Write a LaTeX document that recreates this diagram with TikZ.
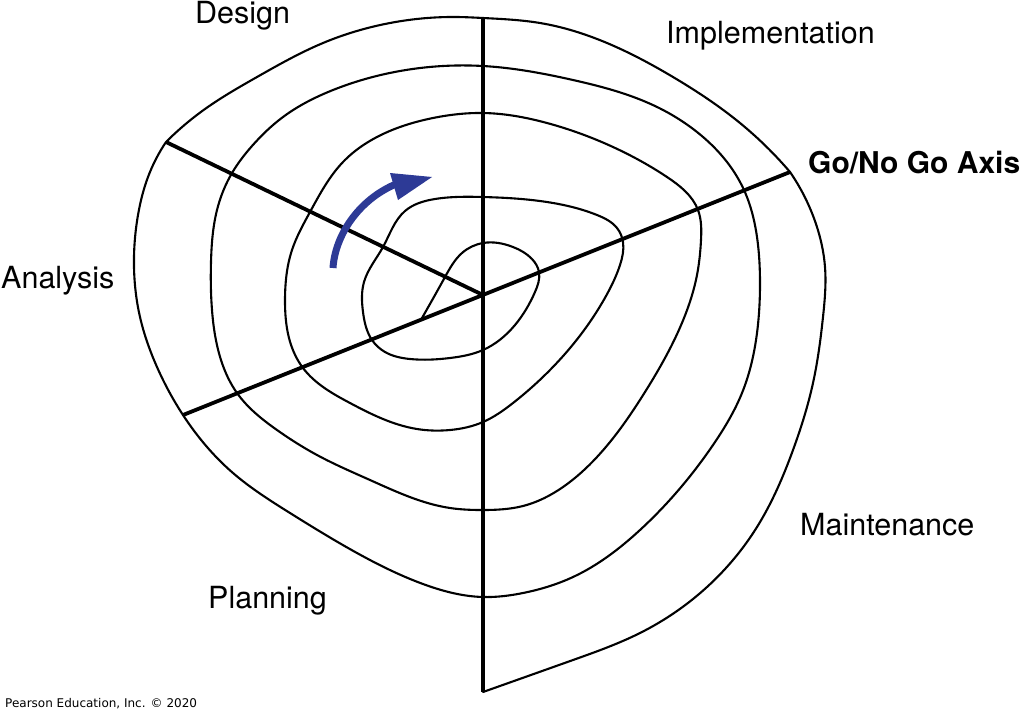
\documentclass[tikz,border=0pt]{standalone}
\usepackage{fontspec}
\setmainfont{TeX Gyre Heros}
\newfontfamily\credfont{DejaVu Sans}
\usetikzlibrary{hobby}
\definecolor{arrowblue}{RGB}{45,58,150}
\begin{document}
\begin{tikzpicture}[x=1pt,y=-1pt,
  spiral/.style={line width=2.1pt, line join=round, line cap=round, use Hobby shortcut},
  axisline/.style={line width=3.8pt},
  lbl/.style={anchor=base west, inner sep=0pt, font=\fontsize{30.5}{36}\selectfont},
  credit/.style={anchor=base west, inner sep=0pt, font=\credfont\fontsize{12}{14}\selectfont},
]
\useasboundingbox (0,0) rectangle (1024,713);
\fill[white] (0,0) rectangle (1024,713);
\coordinate (C) at (483,295);
\coordinate (Vtop) at (483,18);
\coordinate (Vbot) at (483,692);
\coordinate (Gleft) at (183,415);
\coordinate (Gright) at (790,172);
\coordinate (Dend) at (166,142);
\draw[axisline] (Vtop) -- (Vbot);
\draw[axisline] (Gleft) -- (Gright);
\draw[axisline] (Dend) -- (C);
% spiral, inner part up to the end of the design axis
\draw[spiral]
 (422,318) .. (445,277) .. (462,253) .. (483,243) .. (513,247) .. (532,259) .. (539,272)
 .. (535,292) .. (515,325) .. (483,350) .. (450,358) .. (410,359)
 .. (385,352) .. (372,340) .. (363,312) .. (364,282) .. (383,247) .. (405,211) .. (435,199)
 .. (483,197)
 .. (547,202) .. (597,215) .. (617,228) .. (623,242) .. (620,265) .. (606,296)
 .. (547,373) .. (513,403) .. (483,422) .. (450,430) .. (417,429) .. (383,419) .. (350,403)
 .. (303,368) .. (289,338) .. (285,300) .. (292,250) .. (310,212) .. (343,162)
 .. (383,134) .. (433,118) .. (483,113)
 .. (547,123) .. (613,147) .. (667,177) .. (698,210) .. (701,240) .. (697,275)
 .. (684,318) .. (645,392) .. (597,457) .. (563,487) .. (523,506) .. (483,510) .. (450,508)
 .. (370,480) .. (317,455) .. (277,430) .. (237,393) .. (221,360) .. (212,310) .. (211,262)
 .. (217,210) .. (232,173) .. (252,146) .. (283,117) .. (333,90) .. (400,71) .. (483,66)
 .. (573,80) .. (655,106) .. (697,132) .. (727,162) .. (744,190) .. (757,237) .. (760,283) .. (757,333)
 .. (742,393) .. (713,445) .. (640,530) .. (573,577) .. (523,593) .. (483,597)
 .. (423,584) .. (357,553) .. (290,513) .. (233,473) .. (183,415) .. (157,367) .. (140,317)
 .. (134,267) .. (138,215) .. (148,177) .. (Dend);
% outer top arc
\draw[spiral]
 (Dend) .. (205,109) .. (257,77) .. (323,43) .. (390,23) .. (457,17) .. (483,18)
 .. (540,23) .. (607,43) .. (673,77) .. (740,123) .. (Gright);
% outer right arc down to the foot of the vertical axis
\draw[spiral]
 (Gright) .. (816,224) .. (825,267) .. (823,317) .. (813,383) .. (793,450) .. (757,527)
 .. (707,587) .. (640,633) .. (573,660) .. (Vbot);
% blue arrow
\coordinate (Atail) at (333,268);
\coordinate (Ahead) at (396,184);
\draw[arrowblue, line width=7pt] (Atail) .. controls (335,236) and (358,200) .. (Ahead);
\fill[arrowblue] (390,173) -- (432,177) -- (398,200) -- cycle;
% labels
\node[lbl] (design) at (195,23) {Design};
\node[lbl] (impl) at (666,43) {Implementation};
\node[lbl, font=\bfseries\fontsize{30}{36}\selectfont] (gonogo) at (808,173) {Go/No Go Axis};
\node[lbl] (analysis) at (1,288) {Analysis};
\node[lbl] (maint) at (800,535) {Maintenance};
\node[lbl] (plan) at (208,608) {Planning};
\node[credit] (cred) at (5,707) {Pearson Education, Inc. © 2020};
\end{tikzpicture}
\end{document}
